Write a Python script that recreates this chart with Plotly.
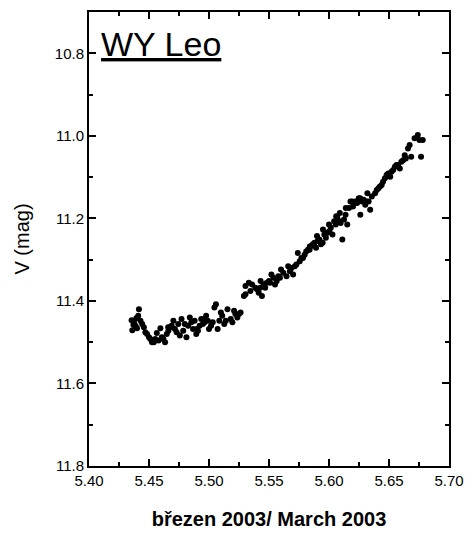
import plotly.graph_objects as go

# Time (day of March 2003) and V magnitude
jd = [
    5.4355, 5.4375, 5.4394, 5.4361, 5.4416, 5.4429, 5.4443, 5.4388, 5.4410, 5.4457,
    5.4470, 5.4484, 5.4511, 5.4525, 5.4552, 5.4580, 5.4607, 5.4634, 5.4648, 5.4662,
    5.4675, 5.4689, 5.4703, 5.4716, 5.4744, 5.4757, 5.4771, 5.4785, 5.4798, 5.4812,
    5.4826, 5.4853, 5.4867, 5.4880, 5.4894, 5.4908, 5.4922, 5.4935, 5.4949, 5.4963,
    5.4976, 5.4990, 5.5017, 5.5031, 5.5045, 5.5058, 5.5072, 5.5086, 5.5099, 5.5127,
    5.5154, 5.5181, 5.5195, 5.5209, 5.5236, 5.5250, 5.5263,
    5.4370, 5.4400, 5.4500, 5.4540, 5.4565, 5.4595, 5.4620, 5.4660, 5.4730, 5.4840,
    5.4900, 5.4960, 5.5000, 5.5110, 5.5140, 5.5220,
    5.5291, 5.5304, 5.5304, 5.5332, 5.5345, 5.5359, 5.5386, 5.5414, 5.5427, 5.5441,
    5.5455, 5.5468, 5.5482, 5.5509, 5.5537, 5.5550, 5.5564, 5.5578, 5.5591, 5.5619,
    5.5646, 5.5674, 5.5687, 5.5701, 5.5715, 5.5728, 5.5756, 5.5783, 5.5797, 5.5810,
    5.5824, 5.5838, 5.5851, 5.5865, 5.5879, 5.5892, 5.5906, 5.5920, 5.5933, 5.5947,
    5.5961, 5.5974, 5.5988, 5.6002, 5.6015, 5.6029, 5.6043, 5.6056, 5.6070, 5.6084,
    5.6097, 5.6111, 5.6125, 5.6138, 5.6152, 5.6166, 5.6179, 5.6193, 5.6207, 5.6220,
    5.6234, 5.6248, 5.6261, 5.6275, 5.6289, 5.6302, 5.6316, 5.6330, 5.6343, 5.6357,
    5.6384, 5.6398, 5.6412, 5.6425, 5.6439, 5.6466, 5.6480, 5.6494, 5.6521, 5.6535,
    5.6549, 5.6562, 5.6576, 5.6603, 5.6617, 5.6631, 5.6658, 5.6672, 5.6685, 5.6713,
    5.6740, 5.6754, 5.6767, 5.6781,
    5.5400, 5.5430, 5.5500, 5.5520, 5.5600, 5.5660, 5.5740, 5.5770, 5.5840, 5.5900,
    5.5950, 5.6000, 5.6060, 5.6090, 5.6140, 5.6200, 5.6260, 5.6320, 5.6450, 5.6510,
    5.6590, 5.6640,
]
vmag = [
    11.447, 11.452, 11.442, 11.471, 11.420, 11.448, 11.456, 11.460, 11.436, 11.464,
    11.476, 11.480, 11.492, 11.500, 11.492, 11.496, 11.488, 11.500, 11.480, 11.472,
    11.464, 11.460, 11.448, 11.468, 11.456, 11.484, 11.444, 11.472, 11.456, 11.488,
    11.460, 11.452, 11.468, 11.448, 11.480, 11.472, 11.460, 11.444, 11.456, 11.452,
    11.436, 11.448, 11.460, 11.452, 11.416, 11.408, 11.468, 11.448, 11.428, 11.456,
    11.420, 11.444, 11.452, 11.424, 11.440, 11.432, 11.428,
    11.458, 11.466, 11.488, 11.500, 11.478, 11.466, 11.492, 11.464, 11.476, 11.440,
    11.468, 11.444, 11.468, 11.436, 11.448, 11.432,
    11.388, 11.384, 11.364, 11.356, 11.376, 11.360, 11.368, 11.380, 11.368, 11.388,
    11.360, 11.368, 11.356, 11.356, 11.344, 11.360, 11.352, 11.340, 11.344, 11.332,
    11.340, 11.328, 11.320, 11.336, 11.316, 11.312, 11.304, 11.296, 11.288, 11.280,
    11.276, 11.276, 11.267, 11.263, 11.259, 11.271, 11.255, 11.251, 11.263, 11.259,
    11.239, 11.247, 11.235, 11.231, 11.223, 11.239, 11.207, 11.215, 11.199, 11.207,
    11.211, 11.251, 11.203, 11.191, 11.215, 11.175, 11.159, 11.159, 11.163, 11.159,
    11.163, 11.151, 11.191, 11.159, 11.155, 11.167, 11.159, 11.159, 11.179, 11.147,
    11.139, 11.131, 11.127, 11.123, 11.119, 11.103, 11.095, 11.091, 11.087, 11.083,
    11.075, 11.071, 11.071, 11.063, 11.059, 11.047, 11.031, 11.022, 11.051, 11.006,
    10.998, 11.010, 11.051, 11.010,
    11.372, 11.352, 11.352, 11.336, 11.324, 11.316, 11.284, 11.296, 11.268, 11.243,
    11.227, 11.215, 11.195, 11.187, 11.175, 11.171, 11.151, 11.139, 11.111, 11.099,
    11.079, 11.055,
]

x_ticks = [5.40, 5.45, 5.50, 5.55, 5.60, 5.65, 5.70]
y_ticks = [10.8, 11.0, 11.2, 11.4, 11.6, 11.8]

FONT = "Liberation Sans, Arial, sans-serif"

fig = go.Figure()
fig.add_trace(go.Scatter(
    x=jd, y=vmag, mode="markers",
    marker=dict(color="black", size=6, symbol="circle", line=dict(width=0)),
    showlegend=False,
))

axis_common = dict(
    showline=True, linecolor="black", linewidth=2, mirror="allticks",
    ticks="inside", ticklen=7, tickwidth=1.5, tickcolor="black",
    showgrid=False, zeroline=False,
    tickfont=dict(family=FONT, size=15, color="black"),
)

fig.update_xaxes(
    range=[5.40, 5.70], tickvals=x_ticks,
    ticktext=[f"{v:.2f}" for v in x_ticks],
    minor=dict(ticks="inside", ticklen=4, tickwidth=1.5, tickcolor="black", dtick=0.025, tick0=5.40),
    title=dict(text="<b>březen 2003/ March 2003</b>", standoff=24,
               font=dict(family=FONT, size=20, color="black")),
    **axis_common,
)
fig.update_yaxes(
    range=[11.8, 10.7], tickvals=y_ticks,
    ticktext=[f"{v:.1f}" for v in y_ticks],
    minor=dict(ticks="inside", ticklen=4, tickwidth=1.5, tickcolor="black", dtick=0.1, tick0=10.8),
    title=dict(text="V (mag)", standoff=20,
               font=dict(family=FONT, size=20, color="black")),
    **axis_common,
)

fig.add_annotation(
    text="<u>WY Leo</u>", xref="paper", yref="paper", x=0.028, y=0.975,
    xanchor="left", yanchor="top", showarrow=False,
    font=dict(family=FONT, size=34, color="black"),
)

fig.update_layout(
    width=474, height=545,
    margin=dict(l=89, r=19, t=10, b=79),
    paper_bgcolor="white", plot_bgcolor="white",
)

fig.write_html("out.html")
